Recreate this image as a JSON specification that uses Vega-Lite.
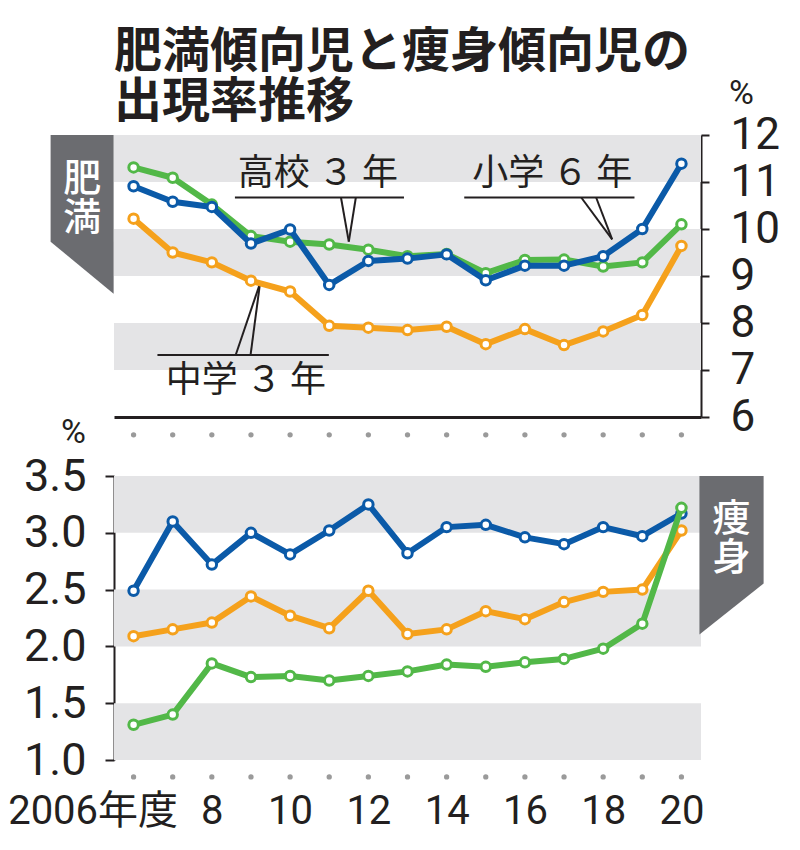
{
  "$schema": "https://vega.github.io/schema/vega-lite/v6.json",
  "background": "white",
  "padding": {"left": 7, "top": 29, "right": 5, "bottom": 5},
  "bounds": "flush",
  "spacing": 59,
  "config": {"view": {"stroke": null}, "font": "Noto Sans CJK JP"},
  "datasets": {
    "rates": [
      {"year": 2006, "grade": "小学6年", "obesity": 10.91, "thin": 2.49},
      {"year": 2007, "grade": "小学6年", "obesity": 10.58, "thin": 3.10},
      {"year": 2008, "grade": "小学6年", "obesity": 10.47, "thin": 2.72},
      {"year": 2009, "grade": "小学6年", "obesity": 9.69, "thin": 3.00},
      {"year": 2010, "grade": "小学6年", "obesity": 9.99, "thin": 2.81},
      {"year": 2011, "grade": "小学6年", "obesity": 8.81, "thin": 3.02},
      {"year": 2012, "grade": "小学6年", "obesity": 9.32, "thin": 3.25},
      {"year": 2013, "grade": "小学6年", "obesity": 9.37, "thin": 2.82},
      {"year": 2014, "grade": "小学6年", "obesity": 9.46, "thin": 3.05},
      {"year": 2015, "grade": "小学6年", "obesity": 8.91, "thin": 3.07},
      {"year": 2016, "grade": "小学6年", "obesity": 9.22, "thin": 2.96},
      {"year": 2017, "grade": "小学6年", "obesity": 9.22, "thin": 2.90},
      {"year": 2018, "grade": "小学6年", "obesity": 9.42, "thin": 3.05},
      {"year": 2019, "grade": "小学6年", "obesity": 10.00, "thin": 2.97},
      {"year": 2020, "grade": "小学6年", "obesity": 11.39, "thin": 3.17},
      {"year": 2006, "grade": "中学3年", "obesity": 10.22, "thin": 2.09},
      {"year": 2007, "grade": "中学3年", "obesity": 9.50, "thin": 2.15},
      {"year": 2008, "grade": "中学3年", "obesity": 9.29, "thin": 2.21},
      {"year": 2009, "grade": "中学3年", "obesity": 8.90, "thin": 2.44},
      {"year": 2010, "grade": "中学3年", "obesity": 8.67, "thin": 2.27},
      {"year": 2011, "grade": "中学3年", "obesity": 7.94, "thin": 2.16},
      {"year": 2012, "grade": "中学3年", "obesity": 7.90, "thin": 2.49},
      {"year": 2013, "grade": "中学3年", "obesity": 7.85, "thin": 2.11},
      {"year": 2014, "grade": "中学3年", "obesity": 7.92, "thin": 2.15},
      {"year": 2015, "grade": "中学3年", "obesity": 7.55, "thin": 2.31},
      {"year": 2016, "grade": "中学3年", "obesity": 7.87, "thin": 2.24},
      {"year": 2017, "grade": "中学3年", "obesity": 7.53, "thin": 2.39},
      {"year": 2018, "grade": "中学3年", "obesity": 7.82, "thin": 2.48},
      {"year": 2019, "grade": "中学3年", "obesity": 8.17, "thin": 2.50},
      {"year": 2020, "grade": "中学3年", "obesity": 9.64, "thin": 3.02},
      {"year": 2006, "grade": "高校3年", "obesity": 11.31, "thin": 1.31},
      {"year": 2007, "grade": "高校3年", "obesity": 11.09, "thin": 1.40},
      {"year": 2008, "grade": "高校3年", "obesity": 10.52, "thin": 1.85},
      {"year": 2009, "grade": "高校3年", "obesity": 9.85, "thin": 1.73},
      {"year": 2010, "grade": "高校3年", "obesity": 9.73, "thin": 1.74},
      {"year": 2011, "grade": "高校3年", "obesity": 9.67, "thin": 1.70},
      {"year": 2012, "grade": "高校3年", "obesity": 9.56, "thin": 1.74},
      {"year": 2013, "grade": "高校3年", "obesity": 9.42, "thin": 1.78},
      {"year": 2014, "grade": "高校3年", "obesity": 9.47, "thin": 1.84},
      {"year": 2015, "grade": "高校3年", "obesity": 9.06, "thin": 1.82},
      {"year": 2016, "grade": "高校3年", "obesity": 9.34, "thin": 1.86},
      {"year": 2017, "grade": "高校3年", "obesity": 9.35, "thin": 1.89},
      {"year": 2018, "grade": "高校3年", "obesity": 9.20, "thin": 1.98},
      {"year": 2019, "grade": "高校3年", "obesity": 9.29, "thin": 2.20},
      {"year": 2020, "grade": "高校3年", "obesity": 10.10, "thin": 3.22}
    ],
    "leaders": [
      {"x": 2008.59, "y": 10.67, "x2": 2012.91, "y2": 10.67},
      {"x": 2011.30, "y": 10.67, "x2": 2011.50, "y2": 9.73},
      {"x": 2011.50, "y": 9.73, "x2": 2011.68, "y2": 10.67},
      {"x": 2014.45, "y": 10.67, "x2": 2018.80, "y2": 10.67},
      {"x": 2017.44, "y": 10.67, "x2": 2018.23, "y2": 9.78},
      {"x": 2018.23, "y": 9.78, "x2": 2017.82, "y2": 10.67},
      {"x": 2006.61, "y": 7.32, "x2": 2010.99, "y2": 7.32},
      {"x": 2008.61, "y": 7.32, "x2": 2009.23, "y2": 8.84},
      {"x": 2009.23, "y": 8.84, "x2": 2008.99, "y2": 7.32}
    ],
    "tabTop": [
      {"tx": 2003.88, "ty": 12, "ty2": 9.73},
      {"tx": 2005.49, "ty": 12, "ty2": 8.62}
    ],
    "tabBottom": [
      {"tx": 2020.46, "ty": 3.5, "ty2": 2.105},
      {"tx": 2022.10, "ty": 3.5, "ty2": 2.553}
    ],
    "one": [{}]
  },
  "vconcat": [
    {
      "width": 587,
      "height": 282,
      "title": {
        "text": ["肥満傾向児と痩身傾向児の", "出現率推移"],
        "anchor": "start",
        "frame": "group",
        "font": "Noto Sans CJK JP",
        "fontSize": 48,
        "fontWeight": "bold",
        "lineHeight": 50,
        "color": "#231f20",
        "offset": -51
      },
      "layer": [
        {
          "data": {"values": [{"lo": 7, "hi": 8}, {"lo": 9, "hi": 10}, {"lo": 11, "hi": 12}]},
          "mark": {"type": "rect", "color": "#e4e4e6"},
          "encoding": {
            "y": {
              "field": "lo", "type": "quantitative",
              "scale": {"domain": [6, 12], "nice": false, "zero": false},
              "axis": {
                "orient": "right", "values": [6, 7, 8, 9, 10, 11, 12], "grid": false,
                "title": "%", "titleAngle": 0, "titleX": 40, "titleY": -42,
                "titleAlign": "center", "titleBaseline": "middle",
                "titleFont": "Roboto", "titleFontSize": 34, "titleFontWeight": "normal", "titleColor": "#231f20",
                "labelFont": "Roboto", "labelFontSize": 44, "labelColor": "#231f20", "labelPadding": 21,
                "labelBaseline": "middle", "labelAlign": "left", "labelOverlap": false,
                "tickSize": 8, "tickWidth": 2, "tickColor": "#231f20",
                "domainColor": "#231f20", "domainWidth": 2
              }
            },
            "y2": {"field": "hi"}
          }
        },
        {
          "data": {"name": "rates"},
          "transform": [{"filter": "datum.grade == '小学6年'"}],
          "mark": {"type": "circle", "size": 28, "color": "#9a9a9a", "opacity": 1},
          "encoding": {
            "x": {"field": "year", "type": "quantitative"},
            "y": {"datum": 5.62}
          }
        },
        {
          "data": {"name": "tabTop"},
          "mark": {"type": "area", "color": "#6b6c70", "opacity": 1},
          "encoding": {
            "x": {"field": "tx", "type": "quantitative"},
            "y": {"field": "ty", "type": "quantitative", "stack": null},
            "y2": {"field": "ty2"}
          }
        },
        {
          "data": {"name": "one"},
          "mark": {"type": "text", "text": "肥\n満", "lineBreak": "\n", "lineHeight": 39, "fontSize": 38, "fontWeight": 500, "color": "white", "baseline": "middle", "align": "center"},
          "encoding": {"x": {"datum": 2004.69}, "y": {"datum": 11.05}}
        },
        {
          "data": {"name": "leaders"},
          "mark": {"type": "rule", "color": "#231f20", "strokeWidth": 2},
          "encoding": {
            "x": {"field": "x", "type": "quantitative"},
            "y": {"field": "y", "type": "quantitative"},
            "x2": {"field": "x2"},
            "y2": {"field": "y2"}
          }
        },
        {
          "data": {"name": "one"},
          "mark": {"type": "text", "text": "高校 ３ 年", "fontSize": 36, "color": "#231f20", "baseline": "middle", "align": "center"},
          "encoding": {"x": {"datum": 2010.71}, "y": {"datum": 11.16}}
        },
        {
          "data": {"name": "one"},
          "mark": {"type": "text", "text": "小学 ６ 年", "fontSize": 36, "color": "#231f20", "baseline": "middle", "align": "center"},
          "encoding": {"x": {"datum": 2016.70}, "y": {"datum": 11.16}}
        },
        {
          "data": {"name": "one"},
          "mark": {"type": "text", "text": "中学 ３ 年", "fontSize": 36, "color": "#231f20", "baseline": "middle", "align": "center"},
          "encoding": {"x": {"datum": 2008.87}, "y": {"datum": 6.76}}
        },
        {
          "data": {"name": "rates"},
          "transform": [{"filter": "datum.grade == '中学3年'"}],
          "encoding": {
            "x": {"field": "year", "type": "quantitative"},
            "y": {"field": "obesity", "type": "quantitative"}
          },
          "layer": [
            {"mark": {"type": "line", "color": "#f5a11c", "strokeWidth": 6, "strokeJoin": "round"}},
            {"mark": {"type": "point", "shape": "circle", "filled": true, "fill": "white", "stroke": "#f5a11c", "strokeWidth": 3, "size": 90, "opacity": 1}}
          ]
        },
        {
          "data": {"name": "rates"},
          "transform": [{"filter": "datum.grade == '高校3年'"}],
          "encoding": {
            "x": {"field": "year", "type": "quantitative"},
            "y": {"field": "obesity", "type": "quantitative"}
          },
          "layer": [
            {"mark": {"type": "line", "color": "#52b848", "strokeWidth": 6, "strokeJoin": "round"}},
            {"mark": {"type": "point", "shape": "circle", "filled": true, "fill": "white", "stroke": "#52b848", "strokeWidth": 3, "size": 90, "opacity": 1}}
          ]
        },
        {
          "data": {"name": "rates"},
          "transform": [{"filter": "datum.grade == '小学6年'"}],
          "encoding": {
            "x": {
              "field": "year", "type": "quantitative",
              "scale": {"domain": [2005.5, 2020.5], "nice": false, "zero": false},
              "axis": {"orient": "bottom", "domain": true, "domainColor": "#231f20", "domainWidth": 3, "ticks": false, "labels": false, "grid": false, "title": null}
            },
            "y": {"field": "obesity", "type": "quantitative"}
          },
          "layer": [
            {"mark": {"type": "line", "color": "#0b5aa8", "strokeWidth": 6, "strokeJoin": "round"}},
            {"mark": {"type": "point", "shape": "circle", "filled": true, "fill": "white", "stroke": "#0b5aa8", "strokeWidth": 3, "size": 90, "opacity": 1}}
          ]
        }
      ]
    },
    {
      "width": 587,
      "height": 284,
      "layer": [
        {
          "data": {"values": [{"lo": 1, "hi": 1.5}, {"lo": 2, "hi": 2.5}, {"lo": 3, "hi": 3.5}]},
          "mark": {"type": "rect", "color": "#e4e4e6"},
          "encoding": {
            "y": {
              "field": "lo", "type": "quantitative",
              "scale": {"domain": [1, 3.5], "nice": false, "zero": false},
              "axis": {
                "orient": "left", "values": [1, 1.5, 2, 2.5, 3, 3.5], "format": ".1f", "grid": false,
                "title": "%", "titleAngle": 0, "titleX": -41, "titleY": -44,
                "titleAlign": "center", "titleBaseline": "middle",
                "titleFont": "Roboto", "titleFontSize": 34, "titleFontWeight": "normal", "titleColor": "#231f20",
                "labelFont": "Roboto", "labelFontSize": 45, "labelColor": "#231f20", "labelPadding": 19,
                "labelBaseline": "middle", "labelOverlap": false,
                "tickSize": 9, "tickWidth": 2, "tickColor": "#231f20",
                "domainColor": "#231f20", "domainWidth": 2
              }
            },
            "y2": {"field": "hi"}
          }
        },
        {
          "data": {"name": "rates"},
          "transform": [{"filter": "datum.grade == '小学6年'"}],
          "mark": {"type": "circle", "size": 28, "color": "#9a9a9a", "opacity": 1},
          "encoding": {
            "x": {"field": "year", "type": "quantitative"},
            "y": {"datum": 0.851}
          }
        },
        {
          "data": {"name": "tabBottom"},
          "mark": {"type": "area", "color": "#6b6c70", "opacity": 1},
          "encoding": {
            "x": {"field": "tx", "type": "quantitative"},
            "y": {"field": "ty", "type": "quantitative", "stack": null},
            "y2": {"field": "ty2"}
          }
        },
        {
          "data": {"name": "one"},
          "mark": {"type": "text", "text": "痩\n身", "lineBreak": "\n", "lineHeight": 39, "fontSize": 38, "fontWeight": 500, "color": "white", "baseline": "middle", "align": "center"},
          "encoding": {"x": {"datum": 2021.28}, "y": {"datum": 3.11}}
        },
        {
          "data": {"name": "rates"},
          "transform": [{"filter": "datum.grade == '小学6年'"}],
          "encoding": {
            "x": {
              "field": "year", "type": "quantitative",
              "scale": {"domain": [2005.5, 2020.5], "nice": false, "zero": false},
              "axis": {
                "orient": "bottom", "values": [2006, 2008, 2010, 2012, 2014, 2016, 2018, 2020],
                "labelExpr": "datum.value == 2006 ? '2006年度' : format(datum.value % 100, 'd')",
                "domain": false, "ticks": false, "grid": false, "title": null,
                "labelFont": "Roboto, Noto Sans CJK JP", "labelFontSize": 40, "labelColor": "#231f20",
                "labelPadding": 31, "labelFlush": false, "labelOverlap": false,
                "labelAlign": {"condition": {"test": "datum.value == 2006", "value": "right"}, "value": "center"},
                "labelOffset": {"condition": {"test": "datum.value == 2006", "value": 44}, "value": 0}
              }
            },
            "y": {"field": "thin", "type": "quantitative"}
          },
          "layer": [
            {"mark": {"type": "line", "color": "#0b5aa8", "strokeWidth": 6, "strokeJoin": "round"}},
            {"mark": {"type": "point", "shape": "circle", "filled": true, "fill": "white", "stroke": "#0b5aa8", "strokeWidth": 3, "size": 90, "opacity": 1}}
          ]
        },
        {
          "data": {"name": "rates"},
          "transform": [{"filter": "datum.grade == '中学3年'"}],
          "encoding": {
            "x": {"field": "year", "type": "quantitative"},
            "y": {"field": "thin", "type": "quantitative"}
          },
          "layer": [
            {"mark": {"type": "line", "color": "#f5a11c", "strokeWidth": 6, "strokeJoin": "round"}},
            {"mark": {"type": "point", "shape": "circle", "filled": true, "fill": "white", "stroke": "#f5a11c", "strokeWidth": 3, "size": 90, "opacity": 1}}
          ]
        },
        {
          "data": {"name": "rates"},
          "transform": [{"filter": "datum.grade == '高校3年'"}],
          "encoding": {
            "x": {"field": "year", "type": "quantitative"},
            "y": {"field": "thin", "type": "quantitative"}
          },
          "layer": [
            {"mark": {"type": "line", "color": "#52b848", "strokeWidth": 6, "strokeJoin": "round"}},
            {"mark": {"type": "point", "shape": "circle", "filled": true, "fill": "white", "stroke": "#52b848", "strokeWidth": 3, "size": 90, "opacity": 1}}
          ]
        }
      ]
    }
  ]
}
